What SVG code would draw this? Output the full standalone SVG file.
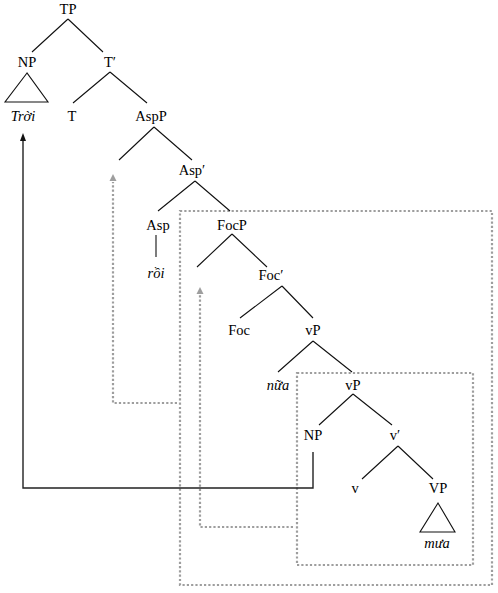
<svg xmlns="http://www.w3.org/2000/svg" width="498" height="593" viewBox="0 0 498 593">
<defs>
<style>
.t{font-family:"Liberation Serif","DejaVu Serif",serif;font-size:14.5px;fill:#000;text-anchor:middle}
.i{font-style:italic}
.e{stroke:#111;stroke-width:1.1;fill:none}
.d{stroke:#9e9e9e;stroke-width:2.2;stroke-dasharray:2.2 2.1;fill:none}
.b{stroke:#222;stroke-width:1.4;fill:none}
</style>
</defs>
<rect width="498" height="593" fill="#fff"/>
<g id="connectors">
<rect class="d" x="180" y="211" width="312" height="374"/>
<rect class="d" x="297" y="373" width="176" height="192"/>
<path class="d" d="M177,403 H113 V182"/>
<path d="M113,174 L109.5,181 L116.5,181 Z" fill="#9e9e9e"/>
<path class="d" d="M293,527 H200 V295"/>
<path d="M200,287 L196.5,294 L203.5,294 Z" fill="#9e9e9e"/>
<path class="b" d="M313,452 V488 H23 V139"/>
<path d="M23,133 L20,141 L26,141 Z" fill="#111"/>
<path class="e" d="M68,19 L32,52 M68,19 L103,52"/>
<path class="e" d="M110,72 L73,103 M110,72 L147,103"/>
<path class="e" d="M154,127 L119,160 M154,127 L192,160"/>
<path class="e" d="M195,181 L158,211 M195,181 L230,211"/>
<path class="e" d="M156,235 V257"/>
<path class="e" d="M232,234 L197,267 M232,234 L267,267"/>
<path class="e" d="M282,286 L240,318 M282,286 L313,318"/>
<path class="e" d="M313,341 L278,372 M313,341 L352,372"/>
<path class="e" d="M353,394 L319,425 M353,394 L392,425"/>
<path class="e" d="M398,446 L362,479 M398,446 L433,479"/>
</g>
<g id="TP"><text class="t" x="68" y="14">TP</text></g>
<g id="NP1"><text class="t" x="27" y="67">NP</text><path class="e" d="M27,73 L5,102 L48,102 Z"/></g>
<g id="Tbar"><text class="t" x="110" y="67">T′</text></g>
<g id="Troi"><text class="t i" x="23" y="121">Trời</text></g>
<g id="T"><text class="t" x="72" y="121">T</text></g>
<g id="AspP"><text class="t" x="151" y="121">AspP</text></g>
<g id="Aspbar"><text class="t" x="192" y="175">Asp′</text></g>
<g id="Asp"><text class="t" x="158" y="230">Asp</text></g>
<g id="FocP"><text class="t" x="232" y="230">FocP</text></g>
<g id="roi"><text class="t i" x="156" y="278">rồi</text></g>
<g id="Focbar"><text class="t" x="271" y="280">Foc′</text></g>
<g id="Foc"><text class="t" x="239" y="335">Foc</text></g>
<g id="vP1"><text class="t" x="313" y="335">vP</text></g>
<g id="nua"><text class="t i" x="278" y="390">nữa</text></g>
<g id="vP2"><text class="t" x="353" y="390">vP</text></g>
<g id="NP2"><text class="t" x="313" y="440">NP</text></g>
<g id="vbar"><text class="t" x="395" y="440">v′</text></g>
<g id="v"><text class="t" x="355" y="493">v</text></g>
<g id="VP"><text class="t" x="438" y="493">VP</text><path class="e" d="M438,503 L420,532 L455,532 Z"/></g>
<g id="mua"><text class="t i" x="437" y="548">mưa</text></g>
</svg>
